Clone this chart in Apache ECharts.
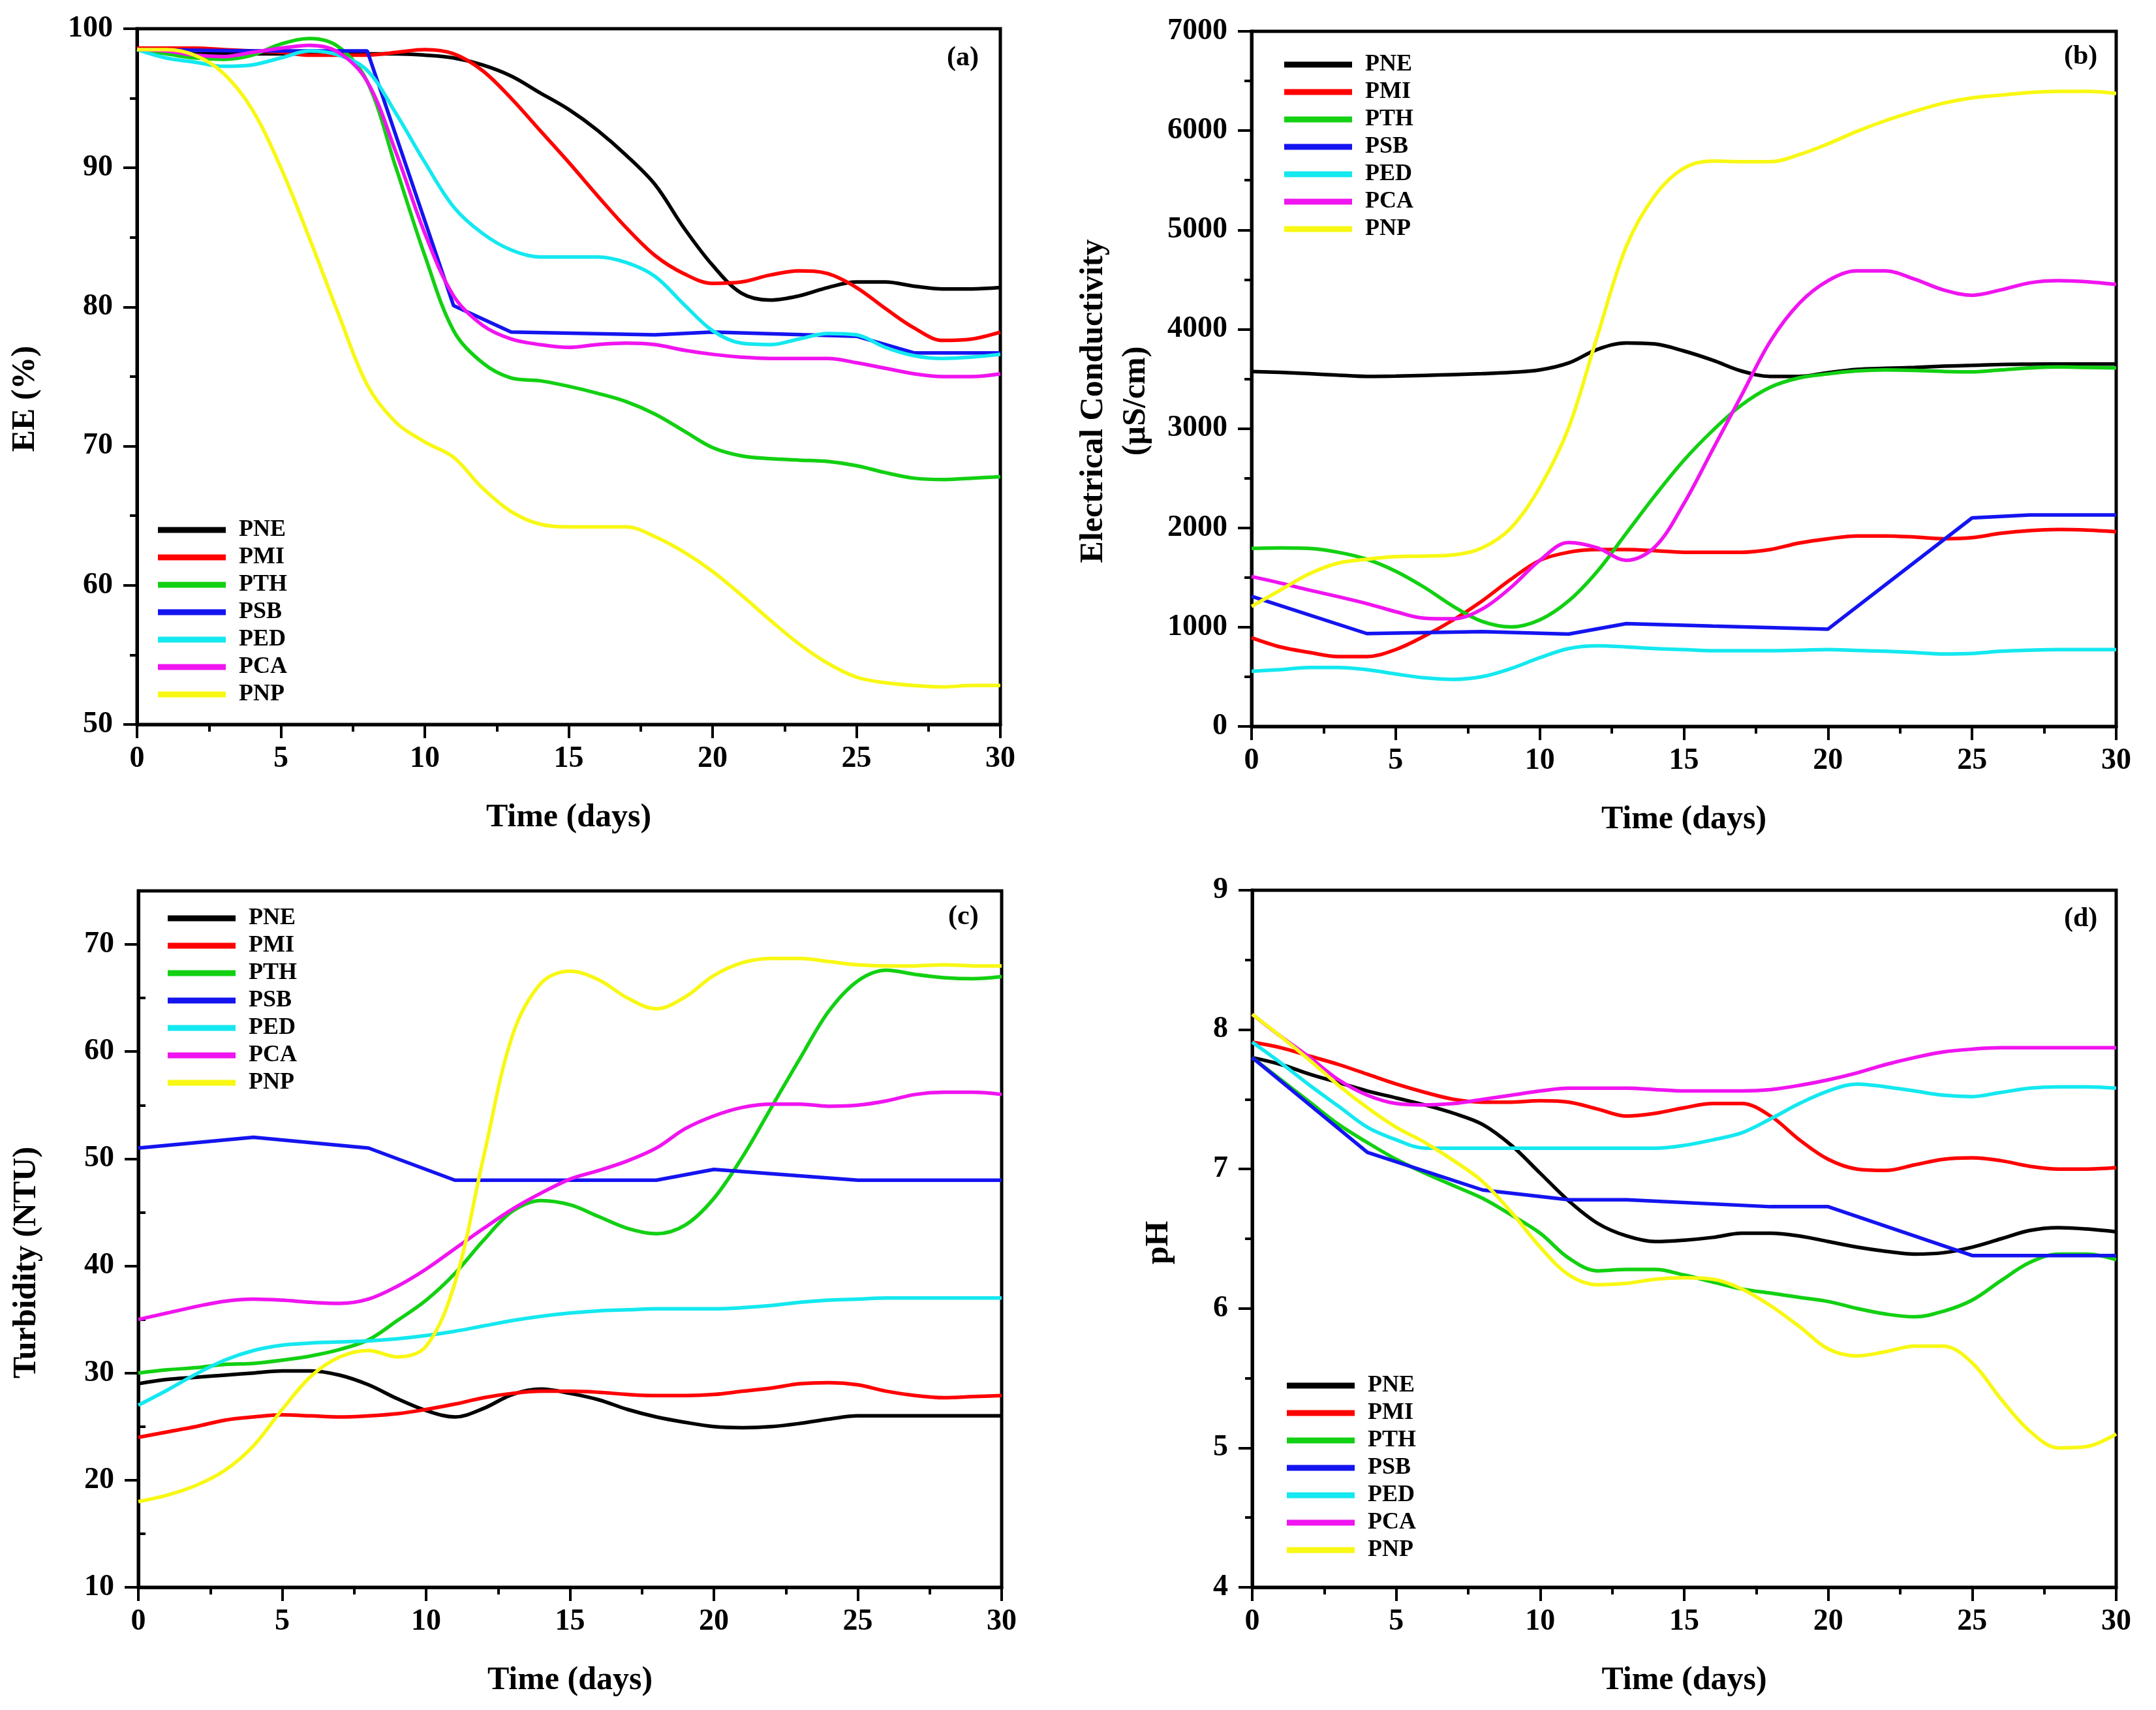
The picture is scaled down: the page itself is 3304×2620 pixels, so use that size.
<!DOCTYPE html>
<html><head><meta charset="utf-8">
<script src="https://cdn.jsdelivr.net/npm/echarts@6/dist/echarts.min.js"></script>
<style>html,body{margin:0;padding:0;background:#fff}#c{width:3304px;height:2620px}</style>
</head><body><div id="c"></div>
<script>
// ---------- DATA ----------
const days = [0,1,2,3,4,5,6,7,8,9,10,11,12,13,14,15,16,17,18,19,20,21,22,23,24,25,26,27,28,29,30];
const seriesNames = ['PNE','PMI','PTH','PSB','PED','PCA','PNP'];
const xTicks = [0,5,10,15,20,25,30];

// (a) EE (%)
const eePNE = [98.5,98.3,98.2,98.2,98.2,98.2,98.2,98.2,98.2,98.2,98.1,97.9,97.4,96.6,95.4,94.2,92.7,90.9,88.8,85.7,83.0,81.0,80.5,80.8,81.4,81.8,81.8,81.5,81.3,81.3,81.4];
const eePMI = [98.6,98.6,98.6,98.5,98.4,98.3,98.1,98.1,98.1,98.3,98.5,98.2,97.0,95.0,92.7,90.4,88.0,85.7,83.7,82.4,81.7,81.8,82.3,82.6,82.4,81.4,79.9,78.5,77.6,77.7,78.2];
const eePTH = [98.5,98.2,97.9,97.8,98.1,98.9,99.3,98.7,96.2,90.0,83.7,78.3,76.0,74.9,74.7,74.3,73.8,73.2,72.3,71.1,69.9,69.3,69.1,69.0,68.9,68.6,68.1,67.7,67.6,67.7,67.8];
const eePSBDays = [0,4,8,11,13,18,20,25,27,30];
const eePSB = [98.5,98.4,98.4,80.1,78.2,78.0,78.2,77.9,76.7,76.7];
const eePED = [98.5,97.9,97.6,97.3,97.4,97.9,98.4,98.1,97.0,93.9,90.4,87.2,85.3,84.1,83.6,83.6,83.6,83.2,82.2,80.2,78.3,77.4,77.3,77.7,78.1,78.0,77.1,76.5,76.3,76.4,76.6];
const eePCA = [98.5,98.4,98.1,98.0,98.3,98.6,98.8,98.3,96.2,91.1,85.3,80.8,78.7,77.7,77.3,77.1,77.3,77.4,77.3,76.9,76.6,76.4,76.3,76.3,76.3,76.0,75.6,75.2,75.0,75.0,75.2];
const eePNP = [98.5,98.5,98.1,96.8,94.2,90.0,84.9,79.5,74.4,71.7,70.3,69.2,67.0,65.3,64.4,64.2,64.2,64.2,63.5,62.4,61.0,59.3,57.5,55.8,54.4,53.4,53.0,52.8,52.7,52.8,52.8];
const eeTicks = [50,60,70,80,90,100];

// (b) Electrical conductivity (µS/cm)
const ecPNE = [3574,3565,3552,3538,3525,3528,3535,3543,3552,3565,3590,3660,3797,3862,3851,3781,3688,3579,3525,3525,3563,3595,3606,3615,3628,3636,3645,3648,3650,3650,3650];
const ecPMI = [893,800,746,703,703,774,910,1073,1264,1482,1672,1754,1781,1781,1770,1754,1754,1754,1781,1847,1890,1918,1918,1907,1890,1901,1945,1972,1983,1977,1961];
const ecPTH = [1792,1798,1792,1754,1683,1563,1400,1209,1057,1002,1073,1264,1563,1945,2326,2680,2980,3236,3416,3510,3550,3580,3590,3585,3575,3570,3590,3610,3620,3615,3610];
const ecPSBDays = [0,4,8,11,13,16,20,25,27,30];
const ecPSB = [1310,935,955,930,1035,1010,980,2100,2130,2130];
const ecPED = [556,572,594,594,572,528,490,474,501,583,692,784,812,801,784,774,763,763,763,768,774,765,757,745,730,735,757,768,774,774,774];
const ecPCA = [1509,1444,1373,1307,1237,1155,1090,1084,1182,1400,1672,1852,1798,1672,1809,2244,2789,3334,3879,4260,4489,4587,4587,4505,4396,4342,4396,4467,4489,4478,4451];
const ecPNP = [1209,1373,1536,1645,1683,1710,1716,1727,1798,1999,2408,3007,3933,4832,5349,5622,5693,5687,5687,5758,5867,5992,6101,6194,6276,6330,6357,6384,6395,6395,6374];
const ecTicks = [0,1000,2000,3000,4000,5000,6000,7000];

// (c) Turbidity (NTU)
const tuPNE = [29.0,29.4,29.6,29.8,30.0,30.2,30.2,29.8,28.9,27.6,26.5,25.9,26.7,28.0,28.5,28.1,27.5,26.6,25.9,25.4,25.0,24.9,25.0,25.3,25.7,26.0,26.0,26.0,26.0,26.0,26.0];
const tuPMI = [24.0,24.5,25.0,25.6,25.9,26.1,26.0,25.9,26.0,26.2,26.6,27.1,27.7,28.1,28.3,28.3,28.2,28.0,27.9,27.9,28.0,28.3,28.6,29.0,29.1,28.9,28.3,27.9,27.7,27.8,27.9];
const tuPTH = [30.0,30.3,30.5,30.8,30.9,31.2,31.6,32.2,33.1,34.9,36.8,39.3,42.4,45.1,46.1,45.7,44.6,43.5,43.0,43.8,46.3,50.2,54.8,59.4,63.8,66.6,67.6,67.2,66.9,66.8,67.0];
const tuPSBDays = [0,4,8,11,18,20,25,30];
const tuPSB = [51,52,51,48,48,49,48,48];
const tuPED = [27.0,28.4,29.9,31.2,32.1,32.6,32.8,32.9,33.0,33.2,33.5,33.9,34.4,34.9,35.3,35.6,35.8,35.9,36.0,36.0,36.0,36.1,36.3,36.6,36.8,36.9,37.0,37.0,37.0,37.0,37.0];
const tuPCA = [35.0,35.6,36.2,36.7,36.9,36.8,36.6,36.5,36.9,38.1,39.7,41.6,43.5,45.3,46.8,48.1,48.9,49.8,51.0,52.8,54.0,54.8,55.1,55.1,54.9,55.0,55.4,56.0,56.2,56.2,56.0];
const tuPNP = [18.0,18.6,19.5,20.9,23.2,26.6,29.7,31.5,32.1,31.5,32.5,38.4,50.2,61.5,66.4,67.5,66.7,65.0,64.0,65.1,67.1,68.3,68.7,68.7,68.4,68.1,68.0,68.0,68.1,68.0,68.0];
const tuTicks = [10,20,30,40,50,60,70];
const tuMinorTicks = [15,25,35,45,55,65,75];

// (d) pH
const phPNE = [7.80,7.75,7.68,7.62,7.56,7.51,7.46,7.40,7.32,7.17,6.97,6.77,6.61,6.52,6.48,6.49,6.51,6.54,6.54,6.52,6.48,6.44,6.41,6.39,6.40,6.44,6.50,6.56,6.58,6.57,6.55];
const phPMI = [7.91,7.87,7.81,7.75,7.68,7.61,7.55,7.50,7.48,7.48,7.49,7.48,7.43,7.38,7.40,7.44,7.47,7.47,7.38,7.21,7.07,7.00,6.99,7.03,7.07,7.08,7.06,7.02,7.00,7.00,7.01];
const phPTH = [7.80,7.64,7.48,7.32,7.19,7.07,6.97,6.88,6.79,6.67,6.54,6.36,6.27,6.28,6.28,6.24,6.19,6.14,6.11,6.08,6.05,6.00,5.96,5.94,5.98,6.06,6.20,6.33,6.39,6.39,6.35];
const phPSBDays = [0,4,8,11,13,18,20,25,30];
const phPSB = [7.80,7.12,6.85,6.78,6.78,6.73,6.73,6.38,6.38];
const phPED = [7.91,7.76,7.60,7.45,7.30,7.21,7.15,7.15,7.15,7.15,7.15,7.15,7.15,7.15,7.15,7.17,7.21,7.26,7.36,7.47,7.56,7.61,7.59,7.56,7.53,7.52,7.55,7.58,7.59,7.59,7.58];
const phPCA = [8.11,7.95,7.80,7.64,7.53,7.47,7.46,7.47,7.50,7.53,7.56,7.58,7.58,7.58,7.57,7.56,7.56,7.56,7.57,7.60,7.64,7.69,7.75,7.80,7.84,7.86,7.87,7.87,7.87,7.87,7.87];
const phPNP = [8.11,7.95,7.78,7.60,7.44,7.30,7.19,7.06,6.91,6.69,6.44,6.24,6.17,6.18,6.21,6.22,6.21,6.14,6.02,5.87,5.71,5.66,5.69,5.73,5.73,5.61,5.35,5.12,5.00,5.01,5.10];
const phTicks = [4,5,6,7,8,9];

// ---------- STYLE / LAYOUT ----------
const FONT = 'Liberation Serif';
const colors = ['#000000','#ff0000','#12d012','#1414f0','#14e8f0','#f014f0','#f8f814'];
const pts = (xs, ys) => xs.map((x, i) => [x, ys[i]]);

const panels = [
  { grid:{left:210, top:44, width:1323, height:1066}, ticks:eeTicks, name:'EE (%)', nameGap:138, shift:34,
    legend:{left:242, top:794}, label:'(a)', labelPos:{left:1451, top:68},
    data:[pts(days,eePNE),pts(days,eePMI),pts(days,eePTH),pts(eePSBDays,eePSB),pts(days,eePED),pts(days,eePCA),pts(days,eePNP)] },
  { grid:{left:1918, top:48, width:1325, height:1065}, ticks:ecTicks, name:'Electrical Conductivity\n(µS/cm)', nameGap:144, shift:34,
    legend:{left:1968, top:81}, label:'(b)', labelPos:{left:3163, top:66},
    data:[pts(days,ecPNE),pts(days,ecPMI),pts(days,ecPTH),pts(ecPSBDays,ecPSB),pts(days,ecPED),pts(days,ecPCA),pts(days,ecPNP)] },
  { grid:{left:212, top:1365, width:1323, height:1067}, ticks:tuTicks, yMax:75, name:'Turbidity (NTU)', nameGap:138, shift:36,
    legend:{left:257, top:1389}, label:'(c)', labelPos:{left:1453, top:1384},
    data:[pts(days,tuPNE),pts(days,tuPMI),pts(days,tuPTH),pts(tuPSBDays,tuPSB),pts(days,tuPED),pts(days,tuPCA),pts(days,tuPNP)] },
  { grid:{left:1919, top:1364, width:1324, height:1068}, ticks:phTicks, name:'pH', nameGap:110, shift:6,
    legend:{left:1972, top:2105}, label:'(d)', labelPos:{left:3163, top:1387},
    data:[pts(days,phPNE),pts(days,phPMI),pts(days,phPTH),pts(phPSBDays,phPSB),pts(days,phPED),pts(days,phPCA),pts(days,phPNP)] }
];

const plain = v => String(v);
const tickLabel = {color:'#000', fontFamily:FONT, fontWeight:'bold', fontSize:46, formatter:plain};
const grids = [], xAxes = [], yAxes = [], series = [], legends = [], titles = [];

panels.forEach((p, gi) => {
  grids.push(Object.assign({show:true, borderColor:'#000', borderWidth:5, backgroundColor:'transparent'}, p.grid));
  xAxes.push({
    type:'value', gridIndex:gi, min:0, max:30, interval:5,
    name:'Time (days)', nameLocation:'middle', nameGap:118,
    nameTextStyle:{color:'#000', fontFamily:FONT, fontWeight:'bold', fontSize:50},
    axisLine:{show:true, onZero:false, lineStyle:{color:'#000', width:5}},
    axisTick:{show:true, inside:false, length:21, lineStyle:{color:'#000', width:4}},
    minorTick:{show:true, splitNumber:2, length:11, lineStyle:{color:'#000', width:4}},
    splitLine:{show:false}, minorSplitLine:{show:false},
    axisLabel:Object.assign({margin:30}, tickLabel)
  });
  const yMin = p.ticks[0];
  const yMax = p.yMax !== undefined ? p.yMax : p.ticks[p.ticks.length - 1];
  const yInt = p.ticks[1] - p.ticks[0];
  const mainY = {
    type:'value', gridIndex:gi, min:yMin, max:yMax, interval:yInt,
    name:p.name, nameLocation:'middle', nameGap:p.nameGap,
    nameTextStyle:{color:'#000', fontFamily:FONT, fontWeight:'bold', fontSize:50, lineHeight:65, padding:[0, 2*p.shift, 0, 0]},
    axisLine:{show:true, onZero:false, lineStyle:{color:'#000', width:5}},
    axisTick:{show:true, inside:false, length:21, lineStyle:{color:'#000', width:4}},
    minorTick:{show:true, splitNumber:2, length:11, lineStyle:{color:'#000', width:4}},
    splitLine:{show:false}, minorSplitLine:{show:false},
    axisLabel:Object.assign({margin:37}, tickLabel)
  };
  let yIndex = yAxes.length;
  if (p.yMax !== undefined) {
    mainY.axisTick.customValues = p.ticks;
    mainY.axisLabel.customValues = p.ticks;
    mainY.minorTick = {show:false};
    yAxes.push(mainY);
    yAxes.push({
      type:'value', gridIndex:gi, min:yMin, max:yMax, interval:yInt,
      axisLine:{show:false}, axisLabel:{show:false}, splitLine:{show:false},
      axisTick:{show:true, inside:false, length:11, customValues:tuMinorTicks, lineStyle:{color:'#000', width:4}}
    });
  } else {
    yAxes.push(mainY);
  }
  p.data.forEach((d, si) => {
    series.push({
      type:'line', name:seriesNames[si], xAxisIndex:gi, yAxisIndex:yIndex,
      data:d, showSymbol:false, symbol:'none', smooth: si === 3 ? false : 0.35,
      lineStyle:{color:colors[si], width:5.5}, itemStyle:{color:colors[si]},
      z: 2 + si, animation:false
    });
  });
  legends.push({
    left:p.legend.left, top:p.legend.top, orient:'vertical', padding:0,
    icon:'rect', itemWidth:104, itemHeight:9, itemGap:6,
    data:seriesNames,
    textStyle:{color:'#000', fontFamily:FONT, fontWeight:'bold', fontSize:36, lineHeight:34, padding:[0,0,0,15]}
  });
  titles.push({
    text:p.label, left:p.labelPos.left, top:p.labelPos.top, padding:0,
    textStyle:{color:'#000', fontFamily:FONT, fontWeight:'bold', fontSize:42}
  });
});

const chart = echarts.init(document.getElementById('c'), null, {renderer:'canvas'});
chart.setOption({
  backgroundColor:'#fff', animation:false,
  title:titles, grid:grids, xAxis:xAxes, yAxis:yAxes, legend:legends, series:series
});
</script>
</body></html>
